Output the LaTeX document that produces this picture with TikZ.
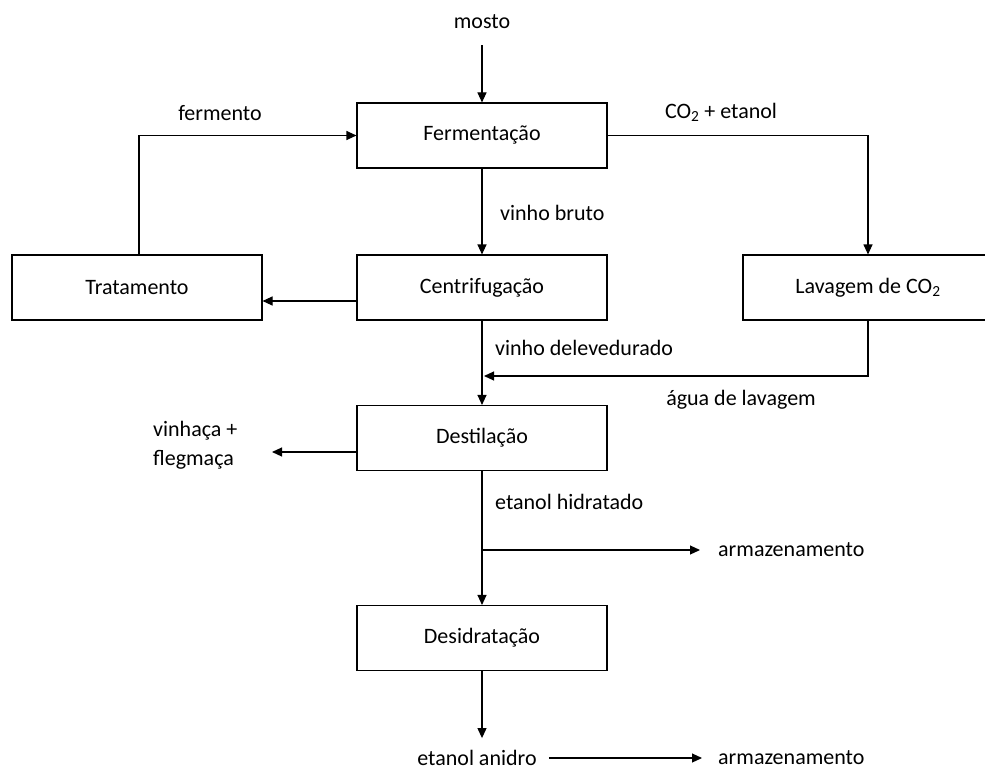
\documentclass[tikz,border=0pt]{standalone}
\usepackage{fontspec}
\setmainfont{Carlito}
\usetikzlibrary{positioning, calc, arrows.meta}

\begin{document}
\begin{tikzpicture}[
    x=1pt, y=-1pt,
    font=\fontsize{22}{29}\selectfont,
    proc/.style={rectangle, draw, line width=1.1pt, minimum width=250pt,
                 minimum height=65pt, align=center},
    lbl/.style={inner sep=0pt, anchor=west},
    txt/.style={inner sep=0pt},
    arrow/.style={-{Triangle[length=10pt, width=9pt]}, line width=1.1pt},
  ]
    \useasboundingbox (0,0) rectangle (985,770);
    \clip (0,0) rectangle (985,770);

    % Process boxes
    \node[proc] (ferm)  at (482,135.5) {Fermentação};
    \node[proc] (trat)  at (137,287.5) {Tratamento};
    \node[proc] (centr) at (482,287.5) {Centrifugação};
    \node[proc] (lav)   at (868,287.5) {Lavagem de CO\textsubscript{2}};
    \node[proc] (dest)  at (482,438)   {Destilação};
    \node[proc] (desid) at (482,638)   {Desidratação};

    % Stream labels
    \node[txt] (mosto)    at (482,22)  {mosto};
    \node[txt] (fermento) at (220,113) {fermento};
    \node[txt] (co2)      at (721,112) {CO\textsubscript{2} + etanol};
    \node[lbl] (vbruto)   at (500,213) {vinho bruto};
    \node[lbl] (vdelev)   at (495,348) {vinho delevedurado};
    \node[txt] (agua)     at (741,400) {água de lavagem};
    \node[lbl, align=left] (vinhaca) at (153,445) {vinhaça +\\flegmaça};
    \node[lbl] (ehid)     at (495,502) {etanol hidratado};
    \node[lbl] (arm1)     at (718,550) {armazenamento};
    \node[txt] (eanid)    at (477,758) {etanol anidro};
    \node[lbl] (arm2)     at (718,758) {armazenamento};

    \coordinate (join1) at (482,376);
    \coordinate (branch) at (482,550);
    \coordinate (vout) at (272,452);

    % Main line
    \draw[arrow, shorten <=16pt] (mosto) -- (ferm);
    \draw[arrow] (ferm) -- (centr);
    \draw[arrow] (centr) -- (dest);
    \draw[arrow] (dest) -- (desid);
    \draw[arrow, shorten >=12pt] (desid.south) -- (desid.south |- eanid.north);
    \draw[arrow, shorten <=12pt, shorten >=16pt] (eanid.east) -- (arm2.west);

    % Side streams
    \draw[arrow] ($(trat.north)+(2,0)$) |- (ferm.west);
    \draw[arrow] (ferm.east) -| (lav.north);
    \draw[arrow] ($(centr.west)+(0,13.5)$) -- ($(trat.east)+(0,13.5)$);
    \draw[arrow, shorten >=2pt] (lav.south) |- (join1);
    \draw[arrow] ($(dest.west)+(0,14)$) -- (vout);
    \draw[arrow, shorten >=18pt] (branch) -- (arm1.west);
  \end{tikzpicture}
\end{document}
